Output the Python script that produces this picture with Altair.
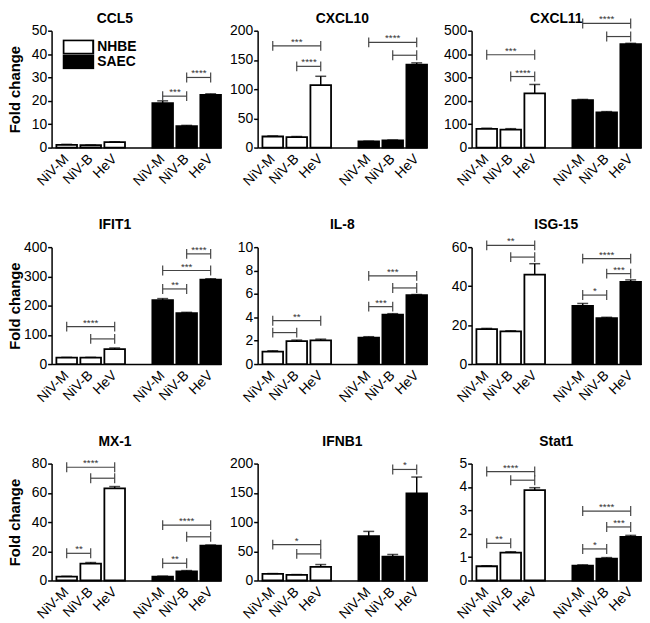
import altair as alt
import pandas as pd

F = "Liberation Sans"

genes = ["CCL5", "CXCL10", "CXCL11", "IFIT1", "IL-8", "ISG-15", "MX-1", "IFNB1", "Stat1"]
viruses = ["NiV-M", "NiV-B", "HeV"]
cells = ["NHBE", "SAEC"]
y_max = [50, 200, 500, 400, 10, 60, 80, 200, 5]
y_step = [10, 50, 100, 100, 2, 20, 20, 50, 1]

nhbe_mean = [
    [1.2, 1.0, 2.3],
    [19, 18, 107],
    [80, 77, 232],
    [22, 22, 51],
    [1.06, 1.97, 2.03],
    [17.9, 16.8, 45.9],
    [2.7, 11.6, 63],
    [11.4, 9.7, 23.3],
    [0.61, 1.19, 3.87],
]
nhbe_err = [
    [0.2, 0.1, 0.2],
    [1, 1, 15],
    [3, 4, 38],
    [1, 1, 4],
    [0.08, 0.08, 0.1],
    [0.4, 0.3, 5.6],
    [0.2, 0.7, 1.3],
    [0.5, 0.5, 4],
    [0.02, 0.04, 0.1],
]
saec_mean = [
    [19, 9.2, 22.5],
    [10.5, 12.5, 142],
    [203, 151, 442],
    [219, 174, 289],
    [2.26, 4.23, 5.9],
    [29.9, 23.5, 42.2],
    [2.7, 6.3, 23.8],
    [76, 41, 149],
    [0.64, 0.93, 1.87],
]
saec_err = [
    [1.0, 0.3, 0.5],
    [0.5, 0.5, 3],
    [3, 3, 4],
    [5, 3, 3],
    [0.08, 0.08, 0.05],
    [1.2, 0.5, 1.0],
    [0.3, 0.5, 0.5],
    [8, 3.5, 28],
    [0.03, 0.05, 0.06],
]
# significance brackets: (cell, from, to, height, label)
brackets = [
    [("SAEC", "NiV-M", "NiV-B", 22, "***"), ("SAEC", "NiV-B", "HeV", 30, "****")],
    [("NHBE", "NiV-M", "HeV", 174, "***"), ("NHBE", "NiV-B", "HeV", 139, "****"),
     ("SAEC", "NiV-M", "HeV", 180, "****"), ("SAEC", "NiV-B", "HeV", 158, "")],
    [("NHBE", "NiV-M", "HeV", 397, "***"), ("NHBE", "NiV-B", "HeV", 304, "****"),
     ("SAEC", "NiV-M", "HeV", 531, "****"), ("SAEC", "NiV-B", "HeV", 475, "")],
    [("NHBE", "NiV-M", "HeV", 128, "****"), ("NHBE", "NiV-B", "HeV", 86, ""),
     ("SAEC", "NiV-M", "NiV-B", 257, "**"), ("SAEC", "NiV-M", "HeV", 320, "***"),
     ("SAEC", "NiV-B", "HeV", 377, "****")],
    [("NHBE", "NiV-M", "HeV", 3.71, "**"), ("NHBE", "NiV-M", "NiV-B", 2.69, ""),
     ("SAEC", "NiV-M", "NiV-B", 4.91, "***"), ("SAEC", "NiV-M", "HeV", 7.54, "***"),
     ("SAEC", "NiV-B", "HeV", 6.51, "")],
    [("NHBE", "NiV-M", "HeV", 60.9, "**"), ("NHBE", "NiV-B", "HeV", 54.9, ""),
     ("SAEC", "NiV-M", "NiV-B", 35.4, "*"), ("SAEC", "NiV-M", "HeV", 54.1, "****"),
     ("SAEC", "NiV-B", "HeV", 46.4, "***")],
    [("NHBE", "NiV-M", "NiV-B", 18.6, "**"), ("NHBE", "NiV-M", "HeV", 77.5, "****"),
     ("NHBE", "NiV-B", "HeV", 70, ""), ("SAEC", "NiV-M", "NiV-B", 11.8, "**"),
     ("SAEC", "NiV-M", "HeV", 37.9, "****"), ("SAEC", "NiV-B", "HeV", 29.9, "")],
    [("NHBE", "NiV-M", "HeV", 61.4, "*"), ("NHBE", "NiV-B", "HeV", 45.5, ""),
     ("SAEC", "NiV-B", "HeV", 190, "*")],
    [("NHBE", "NiV-M", "NiV-B", 1.59, "**"), ("NHBE", "NiV-M", "HeV", 4.66, "****"),
     ("NHBE", "NiV-B", "HeV", 4.29, ""), ("SAEC", "NiV-M", "NiV-B", 1.35, "*"),
     ("SAEC", "NiV-M", "HeV", 2.97, "****"), ("SAEC", "NiV-B", "HeV", 2.29, "***")],
]

domain_keys = [f"NHBE|{v}" for v in viruses] + ["gap"] + [f"SAEC|{v}" for v in viruses]
PAD_IN = 0.14
W, H = 171, 118
GREY = "#444444"
CAP = 5          # half height of bracket end caps (px)
TXT_H = 10       # height of the star labels above their line (px)
LABEL_OVERHANG = 8  # top y-axis label sticks out this much above the plot (px)
ROW_TITLE_OFFSET = [-2, 8, 8]


def bar_table(i):
    rows = []
    for cell, means, errs in (("NHBE", nhbe_mean[i], nhbe_err[i]),
                              ("SAEC", saec_mean[i], saec_err[i])):
        for v, m, e in zip(viruses, means, errs):
            rows.append({"key": f"{cell}|{v}", "cell": cell, "mean": m, "top": m + e})
    return pd.DataFrame(rows)


def bracket_table(i):
    rows = []
    for cell, a, b, lvl, lab in brackets[i]:
        ia, ib = viruses.index(a), viruses.index(b)
        rows.append({"from": f"{cell}|{a}", "to": f"{cell}|{b}", "level": lvl,
                     "label": lab, "span": ib - ia,
                     "mid": f"{cell}|{viruses[(ia + ib) // 2]}"})
    return pd.DataFrame(rows)


def title_offset(i):
    # brackets drawn above the axis top push the title up; compensate so titles line up
    ext = 0.0
    for cell, a, b, lvl, lab in brackets[i]:
        px = (lvl - y_max[i]) / y_max[i] * H + (TXT_H if lab else CAP)
        ext = max(ext, px)
    return ROW_TITLE_OFFSET[i // 3] - max(0.0, ext - LABEL_OVERHANG)


def panel(i):
    col = i % 3
    bt = bar_table(i)
    brt = bracket_table(i)
    caps = brt.melt(id_vars=["level"], value_vars=["from", "to"], value_name="key")
    xs = alt.Scale(domain=domain_keys, paddingInner=PAD_IN, paddingOuter=0.1, align=1)
    ys = alt.Scale(domain=[0, y_max[i]], nice=False)
    n = int(round(y_max[i] / y_step[i]))
    ticks = [k * y_step[i] for k in range(n + 1)]
    ytitle = "Fold change" if col == 0 else None

    x_axis = alt.Axis(
        labelExpr="datum.label == 'gap' ? '' : slice(datum.label, indexof(datum.label, '|') + 1)",
        labelAngle=-45, labelAlign="right", labelBaseline="middle",
        labelFontSize=14, labelColor="black", labelPadding=9, labelOffset=0,
        ticks=False, domainColor="black", domainWidth=1.5,
        minExtent=40, maxExtent=40,
    )
    y_axis = alt.Axis(
        values=ticks, grid=False, domainColor="black", domainWidth=1.5,
        tickColor="black", tickWidth=1.5, tickSize=4,
        labelFontSize=14, labelColor="black", labelPadding=1,
        minExtent=29, maxExtent=29,
        titleFontSize=15, titleFontWeight="bold", titleColor="black", titlePadding=0,
    )

    def X(field, **kw):
        return alt.X(field, scale=xs, axis=x_axis, title=None, **kw)

    def Y(field):
        return alt.Y(field, scale=ys, axis=y_axis, title=ytitle)

    if i == 0:
        legend = alt.Legend(
            orient="none", legendX=11, legendY=9, title=None, padding=0,
            symbolType="M-1,-0.9H3V0.9H-1Z", symbolSize=225,
            symbolStrokeColor="black", symbolStrokeWidth=2, symbolOpacity=1,
            labelFontSize=14, labelFontWeight="bold", labelColor="black",
            labelOffset=18, rowPadding=0, clipHeight=15,
        )
        fill = alt.Fill("cell:N", scale=alt.Scale(domain=cells, range=["white", "black"]),
                        legend=legend)
    else:
        fill = alt.Fill("cell:N", scale=alt.Scale(domain=cells, range=["white", "black"]),
                        legend=None)

    bars = alt.Chart(bt).mark_bar(stroke="black", strokeWidth=1.8).encode(
        x=X("key:N"), y=Y("mean:Q"), fill=fill,
    )
    err = alt.Chart(bt).mark_rule(color="black", strokeWidth=1.5).encode(
        x=X("key:N"), y=Y("mean:Q"), y2="top:Q",
    )
    cap = alt.Chart(bt).mark_tick(color="black", thickness=1.5, size=11).encode(
        x=X("key:N"), y=Y("top:Q"),
    )
    br = alt.Chart(brt).mark_rule(color=GREY, strokeWidth=1.2).encode(
        x=X("from:N", bandPosition=0.5),
        x2=alt.X2("to:N", bandPosition=0.5),
        y=Y("level:Q"),
    )
    bc = alt.Chart(caps).mark_rule(color=GREY, strokeWidth=1.2,
                                   yOffset=-CAP, y2Offset=CAP).encode(
        x=X("key:N", bandPosition=0.5), y=Y("level:Q"), y2="level:Q",
    )
    txt_kw = dict(fontSize=10, baseline="alphabetic", dy=-1, color="#333333")
    t_span = alt.Chart(brt).transform_filter("datum.span == 2").mark_text(**txt_kw).encode(
        x=X("mid:N", bandPosition=0.5), y=Y("level:Q"), text="label:N",
    )
    t_adj = alt.Chart(brt).transform_filter("datum.span == 1").mark_text(dx=2, **txt_kw).encode(
        x=X("mid:N", bandPosition=1), y=Y("level:Q"), text="label:N",
    )
    title = alt.TitleParams(text=genes[i], fontSize=14, fontWeight="bold", color="black",
                            offset=title_offset(i), frame="bounds" if col == 0 else "group")
    return alt.layer(bars, err, cap, br, bc, t_span, t_adj).properties(
        width=W, height=H, title=title)


rows = []
for r in range(3):
    p = [panel(3 * r + c) for c in range(3)]
    left = alt.hconcat(p[0], p[1], spacing=7).resolve_scale(fill="independent")
    row = alt.hconcat(left, p[2], spacing=15).resolve_scale(fill="independent")
    rows.append(row)

chart = alt.vconcat(*rows, spacing=30.5).resolve_scale(fill="independent").properties(
    padding=0
).configure(font=F).configure_view(stroke=None)

chart.save("out.html", embed_options={"renderer": "svg", "actions": False})
